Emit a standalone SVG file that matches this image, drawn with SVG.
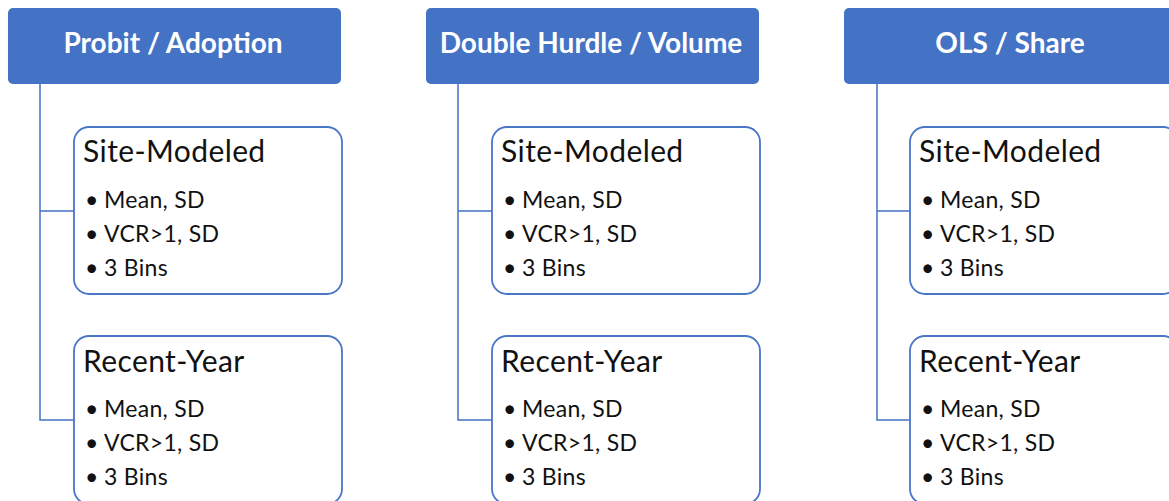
<svg xmlns="http://www.w3.org/2000/svg" width="1169" height="501" viewBox="0 0 1169 501">
<style>
.hdr{fill:#4472C4;}
.ht{font-family:Lato,"Open Sans",sans-serif;font-weight:bold;font-size:28px;fill:#fff;text-anchor:middle;}
.box{fill:#fff;stroke:#4a76c8;stroke-width:1.8;}
.tt{font-family:Lato,"Open Sans",sans-serif;font-size:30px;letter-spacing:0.4px;fill:#111;}
.bt{font-family:Lato,"Open Sans",sans-serif;font-size:23px;letter-spacing:0.3px;fill:#111;}
.con{fill:none;stroke:#4472C4;stroke-width:1.5;}
</style>
<defs>
<g id="items">
<text class="bt"><tspan x="0" y="0">•</tspan><tspan x="19" y="0">Mean, SD</tspan><tspan x="0" y="34">•</tspan><tspan x="19" y="34">VCR&gt;1, SD</tspan><tspan x="0" y="68">•</tspan><tspan x="19" y="68">3 Bins</tspan></text>
</g>
</defs>
<rect width="1169" height="501" fill="#fff"/>
<g id="connectors">
<path class="con" d="M40,84 V420 H74 M40,211 H74"/>
<path class="con" d="M458,84 V420 H492 M458,211 H492"/>
<path class="con" d="M877,84 V420 H910 M877,211 H910"/>
</g>
<g id="h1"><rect class="hdr" x="8" y="8" width="333" height="76" rx="5"/><text class="ht" x="173" y="53">Probit / Adoption</text></g>
<g id="h2"><rect class="hdr" x="426" y="8" width="333" height="76" rx="5"/><text class="ht" x="591" y="53">Double Hurdle / Volume</text></g>
<g id="h3"><rect class="hdr" x="844" y="8" width="333" height="76" rx="5"/><text class="ht" x="1010" y="53">OLS / Share</text></g>
<g id="c1a"><rect class="box" x="74" y="127" width="268" height="167" rx="15"/><text class="tt" x="83" y="162">Site-Modeled</text><use href="#items" x="85" y="208"/></g>
<g id="c1b"><rect class="box" x="74" y="336" width="268" height="168" rx="15"/><text class="tt" x="83" y="372">Recent-Year</text><use href="#items" x="85" y="417"/></g>
<g id="c2a"><rect class="box" x="492" y="127" width="268" height="167" rx="15"/><text class="tt" x="501" y="162">Site-Modeled</text><use href="#items" x="503" y="208"/></g>
<g id="c2b"><rect class="box" x="492" y="336" width="268" height="168" rx="15"/><text class="tt" x="501" y="372">Recent-Year</text><use href="#items" x="503" y="417"/></g>
<g id="c3a"><rect class="box" x="910" y="127" width="268" height="167" rx="15"/><text class="tt" x="919" y="162">Site-Modeled</text><use href="#items" x="921" y="208"/></g>
<g id="c3b"><rect class="box" x="910" y="336" width="268" height="168" rx="15"/><text class="tt" x="919" y="372">Recent-Year</text><use href="#items" x="921" y="417"/></g>
</svg>
